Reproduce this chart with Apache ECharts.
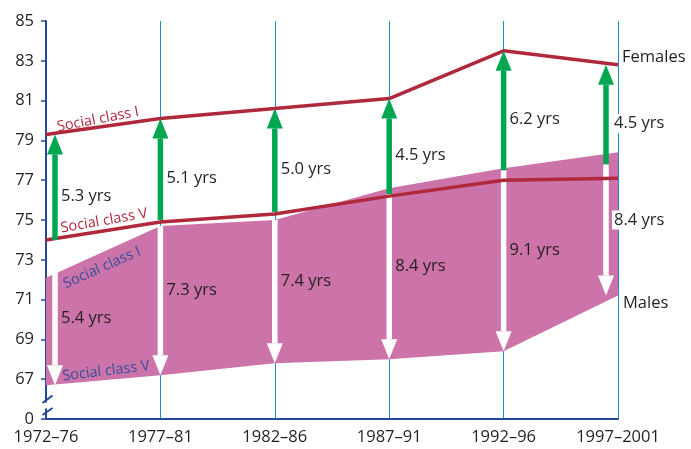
<!DOCTYPE html>
<html>
<head>
<meta charset="utf-8">
<script src="https://cdn.jsdelivr.net/npm/echarts@6/dist/echarts.min.js"></script>
<style>
  html, body { margin: 0; padding: 0; background: #ffffff; }
  #chart { width: 691px; height: 449px; }
</style>
</head>
<body>
<div id="chart"></div>
<script>
const categories = ["1972–76", "1977–81", "1982–86", "1987–91", "1992–96", "1997–2001"];
const femaleClassI = [79.3, 80.1, 80.6, 81.1, 83.5, 82.8];
const femaleClassV = [74.0, 74.9, 75.3, 76.2, 77.0, 77.1];
const maleClassI = [72.1, 74.7, 75.0, 76.6, 77.6, 78.4];
const maleClassV = [66.7, 67.2, 67.8, 68.0, 68.4, 71.2];
// where the arrows start
const femaleArrowFrom = [74.0, 75.0, 75.4, 76.3, 77.5, 77.8];
const maleArrowFrom = [72.4, 74.7, 75.0, 76.3, 77.5, 77.8];
const femaleGap = ["5.3 yrs", "5.1 yrs", "5.0 yrs", "4.5 yrs", "6.2 yrs", "4.5 yrs"];
const maleGap = ["5.4 yrs", "7.3 yrs", "7.4 yrs", "8.4 yrs", "9.1 yrs", "8.4 yrs"];

// axis is broken: everything below 67 is squeezed, bottom tick reads 0
const BASE = 65;
const shift = (arr) => arr.map((v) => +(v - BASE).toFixed(2));

const RED = "#b0283c";
const GREEN = "#00a650";
const PINK = "#cc73a9";
const AXIS = "#234a93";
const TEXT = "#231f20";
const FONT = '"Open Sans", sans-serif';
const last = categories.length - 1;

function arrowRenderer(color, labels, labelShift) {
  return function (params, api) {
    const i = api.value(0);
    const from = api.coord([i, api.value(1)]);
    const to = api.coord([i, api.value(2)]);
    let x = from[0];
    if (i === 0) x += 9;
    if (i === last) x -= 12;
    const dir = to[1] < from[1] ? 1 : -1;
    const headH = 20;
    const neck = to[1] + dir * headH;
    const top = Math.min(from[1], neck);
    return {
      type: "group",
      children: [
        {
          type: "rect",
          shape: { x: x - 2.75, y: top, width: 5.5, height: Math.abs(neck - from[1]) },
          style: { fill: color },
        },
        {
          type: "polygon",
          shape: { points: [[x - 8, neck], [x + 8, neck], [x, to[1]]] },
          style: { fill: color },
        },
        {
          type: "text",
          x: x + 6,
          y: (from[1] + to[1]) / 2 + labelShift,
          style: {
            text: labels[i],
            fill: TEXT,
            font: "16.5px " + FONT,
            align: "left",
            verticalAlign: "middle",
            backgroundColor: i === last ? "#ffffff" : "transparent",
            padding: i === last ? [1, 2] : 0,
          },
        },
      ],
    };
  };
}

function notesRenderer(params, api) {
  const p = (i, v) => api.coord([i, v - BASE]);
  const tag = (pt, dx, dy, rot, text, fill) => ({
    type: "text",
    x: pt[0] + dx,
    y: pt[1] + dy,
    rotation: rot,
    style: { text: text, fill: fill, font: "14.5px " + FONT, align: "center", verticalAlign: "middle" },
  });
  const brk = api.coord([0, 0.68]);
  return {
    type: "group",
    children: [
      tag(p(0, femaleClassI[0]), 52, -15, 0.19, "Social class I", RED),
      tag(p(0, femaleClassV[0]), 58, -19, 0.17, "Social class V", RED),
      tag(p(0, maleClassI[0]), 56, -10, 0.42, "Social class I", "#34509e"),
      tag(p(0, maleClassV[0]), 60, -14, 0.12, "Social class V", "#34509e"),
      {
        type: "text",
        x: p(last, femaleClassI[last])[0] + 4,
        y: p(last, femaleClassI[last])[1] - 7,
        style: { text: "Females", fill: TEXT, font: "16.5px " + FONT, verticalAlign: "middle" },
      },
      {
        type: "text",
        x: p(last, maleClassV[last])[0] + 5,
        y: p(last, maleClassV[last])[1] + 8,
        style: { text: "Males", fill: TEXT, font: "16.5px " + FONT, verticalAlign: "middle" },
      },
      // axis break
      {
        type: "rect",
        shape: { x: brk[0] - 3, y: brk[1] - 3, width: 6, height: 6 },
        style: { fill: "#ffffff" },
      },
      {
        type: "line",
        shape: { x1: brk[0] - 3.5, y1: brk[1] - 2.5, x2: brk[0] + 6.5, y2: brk[1] - 10 },
        style: { stroke: AXIS, lineWidth: 2 },
      },
      {
        type: "line",
        shape: { x1: brk[0] - 3.5, y1: brk[1] + 9.5, x2: brk[0] + 6.5, y2: brk[1] + 2.5 },
        style: { stroke: AXIS, lineWidth: 2 },
      },
    ],
  };
}

const chart = echarts.init(document.getElementById("chart"));
chart.setOption({
  animation: false,
  grid: { left: 46, right: 73, top: 21, bottom: 30, containLabel: false },
  xAxis: {
    type: "category",
    data: categories,
    boundaryGap: false,
    axisLine: { lineStyle: { color: AXIS, width: 2 } },
    axisTick: { show: false },
    axisLabel: { color: TEXT, fontSize: 16.5, fontFamily: FONT, margin: 10 },
    splitLine: { show: true, lineStyle: { color: "#1b8fd2", width: 1 } },
  },
  yAxis: {
    type: "value",
    min: 0,
    max: 20,
    interval: 2,
    axisLine: { show: true, lineStyle: { color: AXIS, width: 2 } },
    axisTick: { show: true, length: 5, lineStyle: { color: AXIS, width: 1.5 } },
    axisLabel: {
      color: TEXT,
      fontSize: 16.5,
      fontFamily: FONT,
      margin: 12,
      formatter: (v) => (v === 0 ? "0" : String(v + BASE)),
    },
    splitLine: { show: false },
  },
  series: [
    {
      type: "line",
      stack: "male",
      data: shift(maleClassV),
      symbol: "none",
      lineStyle: { width: 0, opacity: 0 },
      z: 1,
    },
    {
      type: "line",
      stack: "male",
      data: maleClassI.map((v, i) => +(v - maleClassV[i]).toFixed(2)),
      symbol: "none",
      lineStyle: { width: 0, opacity: 0 },
      areaStyle: { color: PINK, opacity: 1 },
      z: 1,
    },
    {
      type: "custom",
      renderItem: arrowRenderer("#ffffff", maleGap, -10),
      data: categories.map((c, i) => [i, maleArrowFrom[i] - BASE, maleClassV[i] - BASE]),
      z: 2,
    },
    {
      type: "line",
      data: shift(femaleClassV),
      symbol: "none",
      lineStyle: { color: RED, width: 3.5 },
      z: 3,
    },
    {
      type: "line",
      data: shift(femaleClassI),
      symbol: "none",
      lineStyle: { color: RED, width: 3.5 },
      z: 3,
    },
    {
      type: "custom",
      renderItem: arrowRenderer(GREEN, femaleGap, 9),
      data: categories.map((c, i) => [i, femaleArrowFrom[i] - BASE, femaleClassI[i] - BASE]),
      z: 4,
    },
    {
      type: "custom",
      renderItem: notesRenderer,
      data: [[0]],
      z: 5,
    },
  ],
});
</script>
</body>
</html>
